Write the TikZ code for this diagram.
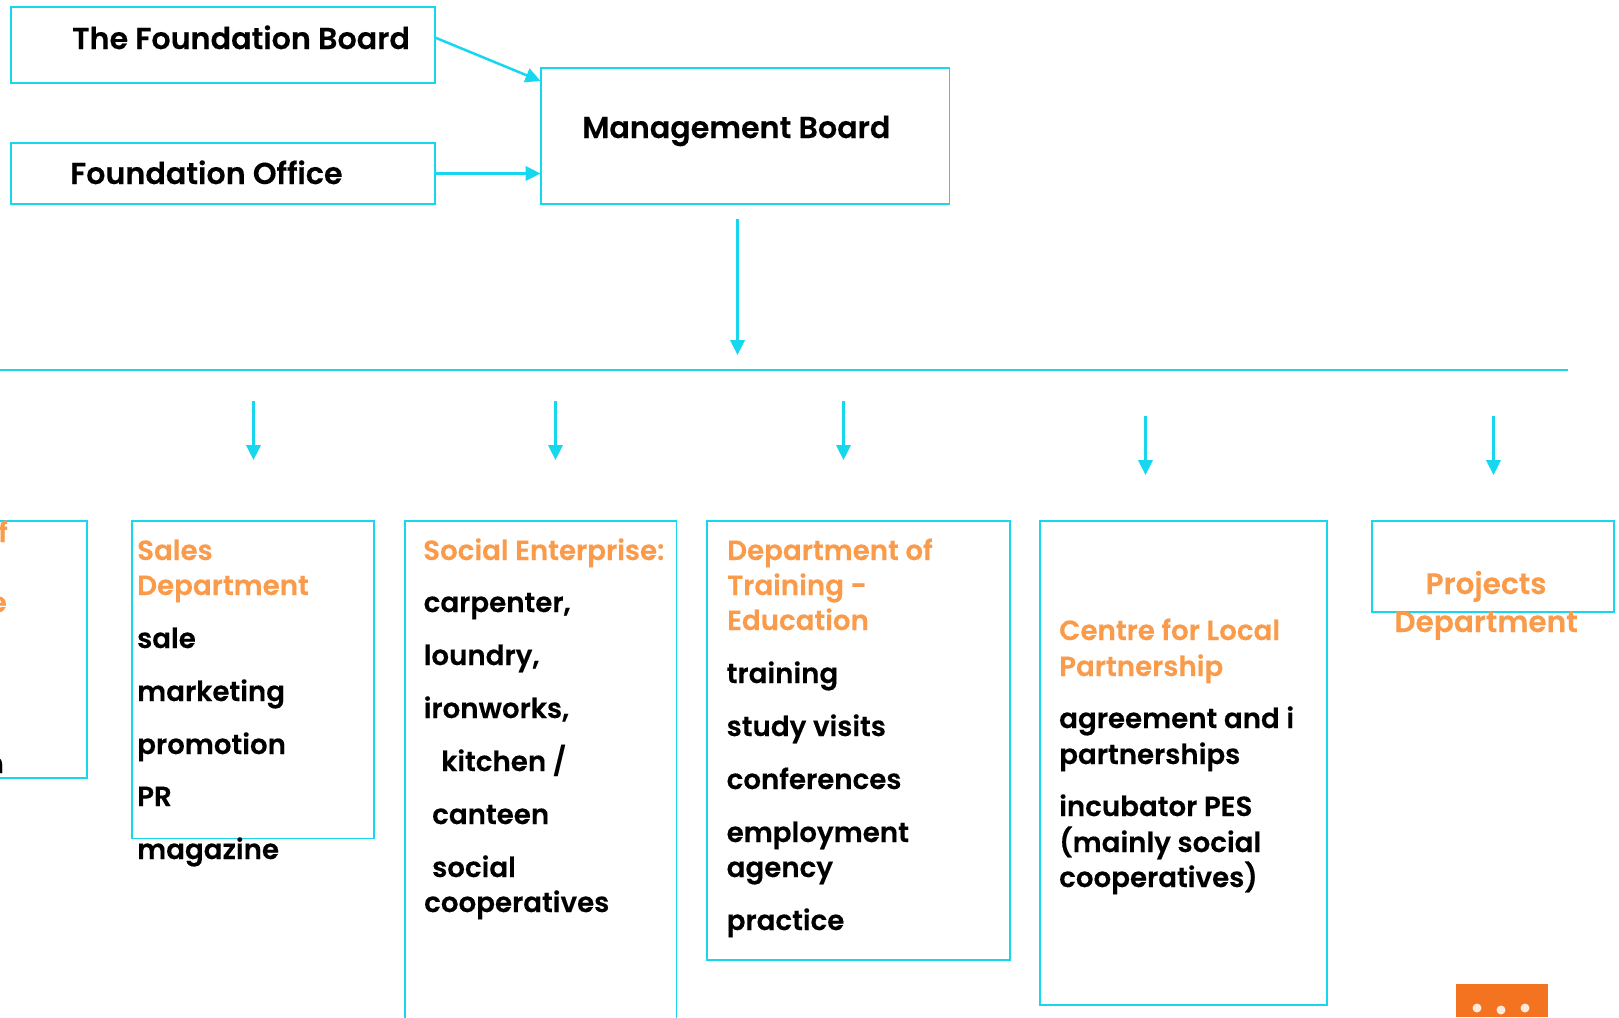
\documentclass[tikz,border=0pt]{standalone}
\usepackage{fontspec}
\setmainfont{Poppins}[UprightFont=*-SemiBold,BoldFont=*-SemiBold,FakeBold=0.25]
\usetikzlibrary{arrows.meta}
\definecolor{cy}{HTML}{17D7EE}
\definecolor{og}{HTML}{F99B4A}
\definecolor{ob}{HTML}{F47321}
\tikzset{x=1pt,y=-1pt,
 box/.style={draw=cy,line width=1.9pt,line cap=rect},
 conn/.style={draw=cy,line width=2.5pt,-{Triangle[length=15pt,width=14.5pt]}},
 hd/.style={anchor=base west,inner sep=0,text=og,font=\fontsize{27.7}{28}\selectfont},
 hdp/.style={anchor=base,inner sep=0,text=og,font=\fontsize{29.6}{30}\selectfont},
 bk/.style={anchor=base west,inner sep=0,text=black,font=\fontsize{27.7}{28}\selectfont},
 top/.style={anchor=base west,inner sep=0,text=black,font=\fontsize{30.2}{30}\selectfont}}
\begin{document}
\begin{tikzpicture}
\useasboundingbox (0,0) rectangle (1619,1017);
\begin{scope}
\clip (0,0) rectangle (1619,1017);
% top boxes
\node[box,minimum width=424pt,minimum height=76pt,inner sep=0,anchor=north west] (fb) at (10,6) {};
\node[box,minimum width=424pt,minimum height=61pt,inner sep=0,anchor=north west] (fo) at (10,142) {};
\node[box,minimum width=408.5pt,minimum height=136pt,inner sep=0,anchor=north west] (mb) at (540,67) {};
\node[top] (fbt) at (72,49) {The Foundation Board};
\node[top] (fot) at (70,184) {Foundation Office};
\node[top] (mbt) at (582,138) {Management Board};
\coordinate (a1) at (435,37.5);
\coordinate (a2) at (540.5,81);
\coordinate (b1) at (435,173.5);
\coordinate (b2) at (540.5,173.5);
\draw[conn] (a1) -- (a2);
\draw[conn] (b1) -- (b2);
% horizontal rule and arrows
\coordinate (r1) at (0,370);
\coordinate (r2) at (1568,370);
\draw[draw=cy,line width=1.9pt] (r1) -- (r2);
\coordinate (m1) at (737.5,219); \coordinate (m2) at (737.5,355);
\draw[conn] (m1) -- (m2);
\coordinate (c1) at (253.5,401); \coordinate (c1e) at (253.5,460);
\coordinate (c2) at (555.5,401); \coordinate (c2e) at (555.5,460);
\coordinate (c3) at (843.5,401); \coordinate (c3e) at (843.5,460);
\coordinate (c4) at (1145.5,416); \coordinate (c4e) at (1145.5,475);
\coordinate (c5) at (1493.5,416); \coordinate (c5e) at (1493.5,475);
\draw[conn] (c1) -- (c1e);
\draw[conn] (c2) -- (c2e);
\draw[conn] (c3) -- (c3e);
\draw[conn] (c4) -- (c4e);
\draw[conn] (c5) -- (c5e);
% lower boxes
\draw[box] (-5,521) -- (87,521) -- (87,778) -- (-5,778);
\draw[box] (132,521) rectangle (374,838.5);
\draw[box] (405,1030) -- (405,521) -- (676.5,521) -- (676.5,1030);
\draw[box] (707,521) rectangle (1010,960);
\draw[box] (1040,521) rectangle (1327,1005);
\draw[box] (1372,521) rectangle (1614,612);
% clipped column
\node[hd,anchor=base east] (l1) at (8,542) {f};
\node[hd,anchor=base east] (l2) at (7,612) {e};
\node[bk,anchor=base east] (l3) at (4,773) {n};
% sales
\node[hd] (s1) at (137,560) {Sales};
\node[hd] (s2) at (137,595) {Department};
\node[bk] (s3) at (137,648) {sale};
\node[bk] (s4) at (137,701) {marketing};
\node[bk] (s5) at (137,754) {promotion};
\node[bk] (s6) at (137,806) {PR};
\node[bk] (s7) at (137,859) {magazine};
% social
\node[hd] (e1) at (423,560) {Social Enterprise:};
\node[bk] (e2) at (423.5,612) {carpenter,};
\node[bk] (e3) at (423.5,665) {loundry,};
\node[bk] (e4) at (423.5,718) {ironworks,};
\node[bk] (e5) at (441,771) {kitchen /};
\node[bk] (e6) at (432,824) {canteen};
\node[bk] (e7) at (432,877) {social};
\node[bk] (e8) at (424,912) {cooperatives};
% training
\node[hd] (t1) at (727,560) {Department of};
\node[hd] (t2) at (727,595) {Training -};
\node[hd] (t3) at (727,630) {Education};
\node[bk] (t4) at (726.5,683) {training};
\node[bk] (t5) at (726.5,736) {study visits};
\node[bk] (t6) at (726.5,789) {conferences};
\node[bk] (t7) at (726.5,842) {employment};
\node[bk] (t8) at (726.5,877) {agency};
\node[bk] (t9) at (726.5,930) {practice};
% centre
\node[hd] (p1) at (1059,640) {Centre for Local};
\node[hd] (p2) at (1059,676) {Partnership};
\node[bk] (p3) at (1059,728) {agreement and i};
\node[bk] (p4) at (1059,764) {partnerships};
\node[bk] (p5) at (1059,816) {incubator PES};
\node[bk] (p6) at (1059,852) {(mainly social};
\node[bk] (p7) at (1059,887) {cooperatives)};
% projects
\node[hdp] (q1) at (1486,594) {Projects};
\node[hdp] (q2) at (1486,632) {Department};
% orange tile
\fill[ob] (1456,984) rectangle (1548,1017);
\fill[white!85!ob] (1477,1008) circle (4.5pt) (1501,1010) circle (4.5pt) (1525,1008) circle (4.5pt);
\end{scope}
\end{tikzpicture}
\end{document}
